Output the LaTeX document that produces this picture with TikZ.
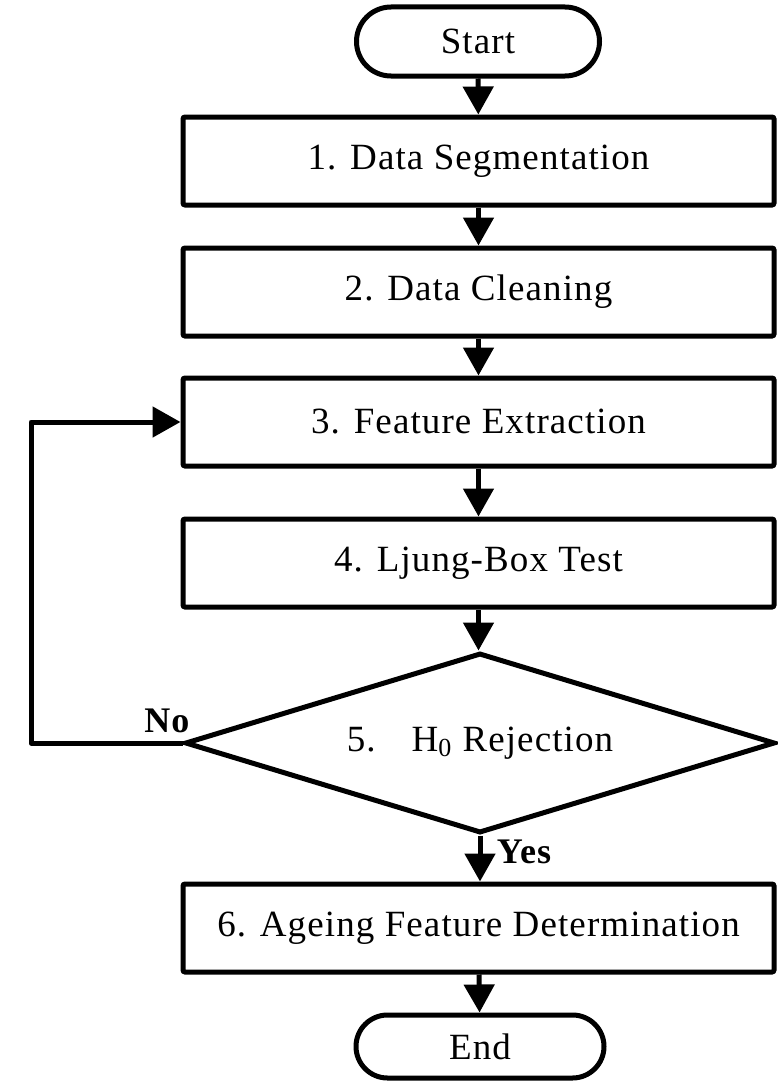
\documentclass[tikz,border=0pt]{standalone}
\usepackage{fontspec}
\setmainfont{Liberation Serif}[LetterSpace=3]
\usetikzlibrary{arrows.meta,shapes.geometric,shapes.misc}
\begin{document}
\begin{tikzpicture}[x=1pt,y=-1pt,
  every node/.style={font=\fontsize{37}{44}\selectfont},
  proc/.style={draw, line width=5pt, minimum width=591pt, minimum height=88pt, rounded corners=2pt, inner sep=0pt},
  term/.style={draw, rounded rectangle, line width=5pt, inner sep=0pt},
  dec/.style={draw, diamond, aspect=3.28, line width=5pt, minimum width=590pt, minimum height=180pt, inner sep=0pt},
  flow/.style={line width=5pt, line join=round, -{Triangle[width=30pt,length=28pt]}},
  lab/.style={font=\bfseries\fontsize{36}{40}\selectfont, inner sep=0pt}]
\useasboundingbox (0,0) rectangle (777,1081);
\node[term, minimum width=243pt, minimum height=69pt] (start) at (478,41.5) {Start};
\node[proc] (b1) at (478.5,161) {1. Data Segmentation};
\node[proc] (b2) at (478.5,292) {2. Data Cleaning};
\node[proc] (b3) at (478.5,422) {3. Feature Extraction};
\node[proc] (b4) at (478.5,563) {4. Ljung-Box Test};
\node[dec] (d5) at (480,743) {5.\hspace{36pt}H\raisebox{-5pt}{\fontsize{26}{28}\selectfont 0}\hspace{0.3em}Rejection};
\node[proc] (b6) at (478.5,928) {6. Ageing Feature Determination};
\node[term, minimum width=248pt, minimum height=63pt] (end) at (480,1046.5) {End};
\coordinate (lp) at (31,743);
\draw[flow] (start) -- (b1);
\draw[flow] (b1) -- (b2);
\draw[flow] (b2) -- (b3);
\draw[flow] (b3) -- (b4);
\draw[flow] (b4.south) -- (b4.south |- d5.north);
\draw[flow] (d5.south) -- (d5.south |- b6.north);
\draw[flow] (b6) -- (end);
\draw[flow] (d5.west) -- (lp) |- (b3.west);
\node[lab] (no) at (167,721) {No};
\node[lab] (yes) at (524,852) {Yes};
\end{tikzpicture}
\end{document}
